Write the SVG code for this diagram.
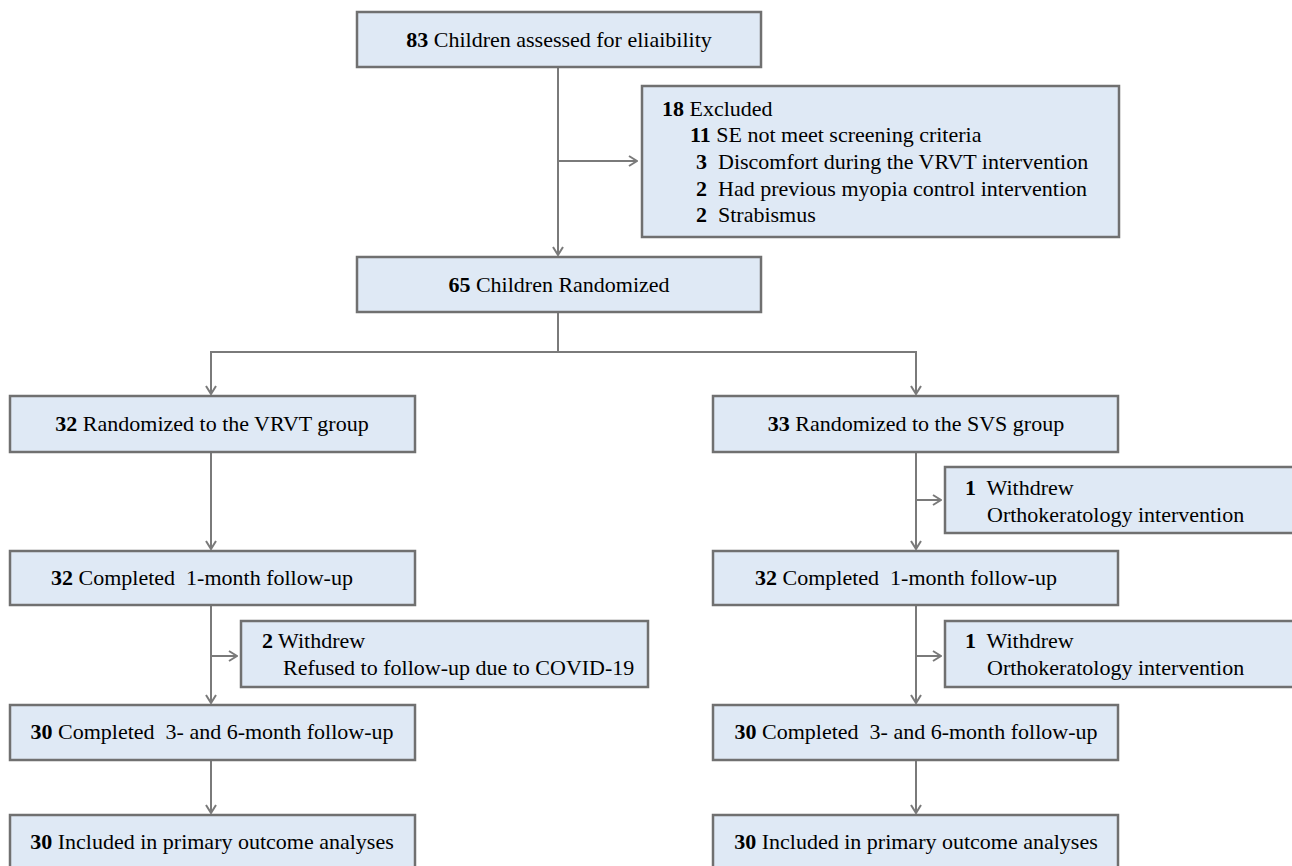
<svg xmlns="http://www.w3.org/2000/svg" width="1292" height="866" viewBox="0 0 1292 866">
<style>
.box{fill:#dfe9f5;stroke:#707070;stroke-width:2.5}
.t{font-size:22px;fill:#000;white-space:pre}
.c{text-anchor:middle}
.b{font-weight:bold}
.ln{fill:none;stroke:#7a7a7a;stroke-width:2}
</style>
<defs>
<marker id="ah" viewBox="0 0 12 12" refX="11" refY="6" markerWidth="12" markerHeight="12" markerUnits="userSpaceOnUse" orient="auto">
<path d="M3,1 L11,6 L3,11" fill="none" stroke="#7a7a7a" stroke-width="2"/>
</marker>
</defs>
<rect width="1292" height="866" fill="#fff"/>
<g id="connectors">
<path class="ln" d="M558,67 V255" marker-end="url(#ah)"/>
<path class="ln" d="M558,161 H637" marker-end="url(#ah)"/>
<path class="ln" d="M558,312 V352 H211 V394" marker-end="url(#ah)"/>
<path class="ln" d="M558,352 H916 V394" marker-end="url(#ah)"/>
<path class="ln" d="M211,452 V549" marker-end="url(#ah)"/>
<path class="ln" d="M916,452 V549" marker-end="url(#ah)"/>
<path class="ln" d="M916,500 H941" marker-end="url(#ah)"/>
<path class="ln" d="M211,605 V703" marker-end="url(#ah)"/>
<path class="ln" d="M211,656 H237" marker-end="url(#ah)"/>
<path class="ln" d="M916,605 V703" marker-end="url(#ah)"/>
<path class="ln" d="M916,656 H941" marker-end="url(#ah)"/>
<path class="ln" d="M211,760 V813" marker-end="url(#ah)"/>
<path class="ln" d="M916,760 V813" marker-end="url(#ah)"/>
</g>
<g font-family="'Liberation Serif', 'Times New Roman', serif">
<g id="assessed">
<rect class="box" x="357" y="12" width="404" height="55"/>
<text class="t c" x="559" y="47"><tspan class="b">83</tspan> Children assessed for eliaibility</text>
</g>
<g id="excluded">
<rect class="box" x="642" y="86" width="477" height="151"/>
<text class="t" x="662" y="116"><tspan class="b">18</tspan> Excluded</text>
<text class="t" x="690" y="142"><tspan class="b">11</tspan> SE not meet screening criteria</text>
<text class="t" x="696" y="169"><tspan class="b">3</tspan>  Discomfort during the VRVT intervention</text>
<text class="t" x="696" y="196"><tspan class="b">2</tspan>  Had previous myopia control intervention</text>
<text class="t" x="696" y="222"><tspan class="b">2</tspan>  Strabismus</text>
</g>
<g id="randomized">
<rect class="box" x="357" y="257" width="404" height="55"/>
<text class="t c" x="559" y="292"><tspan class="b">65</tspan> Children Randomized</text>
</g>
<g id="vrvt">
<rect class="box" x="10" y="396" width="405" height="56"/>
<text class="t c" x="212" y="431"><tspan class="b">32</tspan> Randomized to the VRVT group</text>
</g>
<g id="svs">
<rect class="box" x="713" y="396" width="405" height="56"/>
<text class="t c" x="916" y="431"><tspan class="b">33</tspan> Randomized to the SVS group</text>
</g>
<g id="svs-withdrew1">
<rect class="box" x="945" y="467" width="352" height="66"/>
<text class="t" x="965" y="495"><tspan class="b">1</tspan>  Withdrew</text>
<text class="t" x="987" y="522">Orthokeratology intervention</text>
</g>
<g id="vrvt-1m">
<rect class="box" x="10" y="551" width="405" height="54"/>
<text class="t c" x="202" y="585"><tspan class="b">32</tspan> Completed  1-month follow-up</text>
</g>
<g id="svs-1m">
<rect class="box" x="713" y="551" width="405" height="54"/>
<text class="t c" x="906" y="585"><tspan class="b">32</tspan> Completed  1-month follow-up</text>
</g>
<g id="vrvt-withdrew">
<rect class="box" x="241" y="621" width="407" height="66"/>
<text class="t" x="262" y="648"><tspan class="b">2</tspan> Withdrew</text>
<text class="t" x="283" y="675">Refused to follow-up due to COVID-19</text>
</g>
<g id="svs-withdrew2">
<rect class="box" x="945" y="621" width="352" height="66"/>
<text class="t" x="965" y="648"><tspan class="b">1</tspan>  Withdrew</text>
<text class="t" x="987" y="675">Orthokeratology intervention</text>
</g>
<g id="vrvt-6m">
<rect class="box" x="10" y="705" width="405" height="55"/>
<text class="t c" x="212" y="739"><tspan class="b">30</tspan> Completed  3- and 6-month follow-up</text>
</g>
<g id="svs-6m">
<rect class="box" x="713" y="705" width="405" height="55"/>
<text class="t c" x="916" y="739"><tspan class="b">30</tspan> Completed  3- and 6-month follow-up</text>
</g>
<g id="vrvt-primary">
<rect class="box" x="10" y="815" width="405" height="60"/>
<text class="t c" x="212" y="849"><tspan class="b">30</tspan> Included in primary outcome analyses</text>
</g>
<g id="svs-primary">
<rect class="box" x="713" y="815" width="405" height="60"/>
<text class="t c" x="916" y="849"><tspan class="b">30</tspan> Included in primary outcome analyses</text>
</g>
</g>
</svg>
